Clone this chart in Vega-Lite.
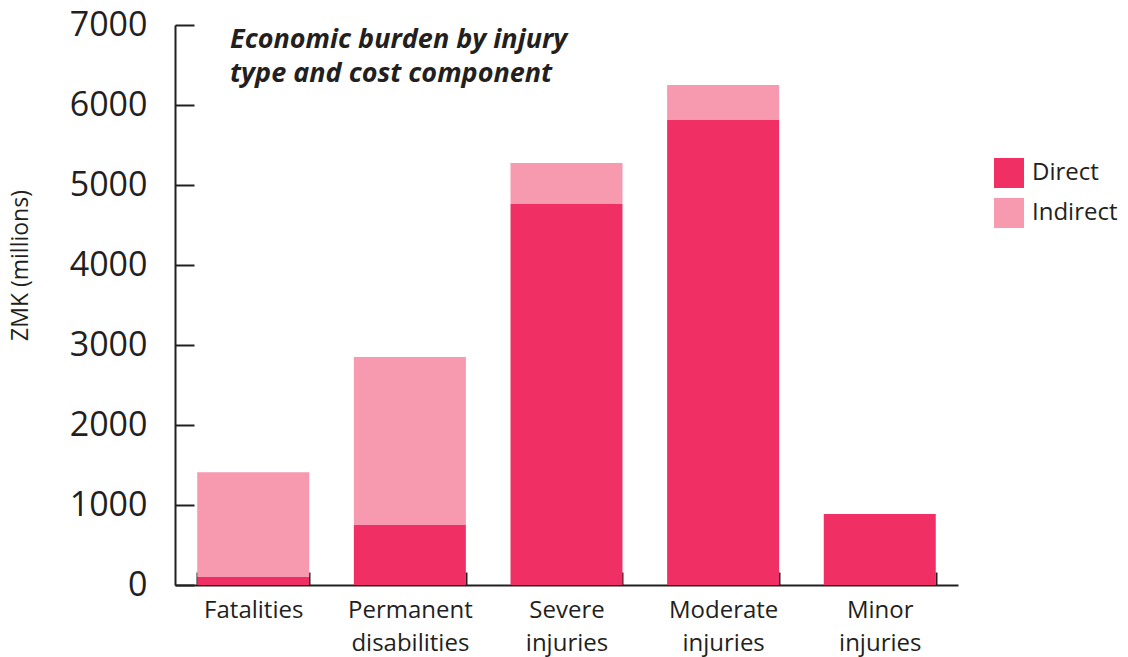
{
  "$schema": "https://vega.github.io/schema/vega-lite/v6.json",
  "width": 783,
  "height": 560,
  "autosize": {"type": "none"},
  "padding": {"left": 175, "top": 25, "right": 170, "bottom": 72},
  "background": "white",
  "title": {
    "text": ["Economic burden by injury", "type and cost component"],
    "anchor": "start",
    "frame": "group",
    "orient": "top",
    "baseline": "top",
    "offset": 0,
    "dx": 55,
    "dy": 80,
    "font": "Open Sans",
    "fontSize": 27,
    "fontWeight": "bold",
    "fontStyle": "italic",
    "color": "#231f20",
    "lineHeight": 34
  },
  "data": {
    "values": [
      {"injury": "Fatalities", "component": "Direct", "value": 100},
      {"injury": "Fatalities", "component": "Indirect", "value": 1310},
      {"injury": "Permanent disabilities", "component": "Direct", "value": 750},
      {"injury": "Permanent disabilities", "component": "Indirect", "value": 2100},
      {"injury": "Severe injuries", "component": "Direct", "value": 4762},
      {"injury": "Severe injuries", "component": "Indirect", "value": 513},
      {"injury": "Moderate injuries", "component": "Direct", "value": 5812},
      {"injury": "Moderate injuries", "component": "Indirect", "value": 438},
      {"injury": "Minor injuries", "component": "Direct", "value": 887},
      {"injury": "Minor injuries", "component": "Indirect", "value": 0}
    ]
  },
  "mark": {"type": "bar"},
  "encoding": {
    "x": {
      "field": "injury",
      "type": "nominal",
      "sort": null,
      "scale": {"paddingInner": 0.285, "paddingOuter": 0.142},
      "axis": {
        "title": null,
        "labelAngle": 0,
        "labelExpr": "split(datum.label, ' ')",
        "labelFont": "Open Sans",
        "labelFontSize": 24,
        "labelColor": "#231f20",
        "labelLineHeight": 33,
        "labelPadding": 26,
        "labelBaseline": "top",
        "tickBand": "extent",
        "tickSize": -13,
        "tickColor": "#231f20",
        "tickWidth": 2,
        "domainColor": "#231f20",
        "domainWidth": 2,
        "grid": false
      }
    },
    "y": {
      "field": "value",
      "type": "quantitative",
      "stack": "zero",
      "scale": {"domain": [0, 7000], "nice": false},
      "axis": {
        "title": "ZMK (millions)",
        "titleFont": "Open Sans",
        "titleFontSize": 23,
        "titleFontWeight": "normal",
        "titleColor": "#231f20",
        "titleX": -143,
        "titleY": 240,
        "values": [0, 1000, 2000, 3000, 4000, 5000, 6000, 7000],
        "format": "d",
        "labelFont": "Open Sans",
        "labelFontSize": 34,
        "labelColor": "#231f20",
        "labelPadding": 47,
        "tickSize": -19,
        "tickColor": "#231f20",
        "tickWidth": 2,
        "domainColor": "#231f20",
        "domainWidth": 2,
        "grid": false
      }
    },
    "color": {
      "field": "component",
      "type": "nominal",
      "scale": {"domain": ["Direct", "Indirect"], "range": ["#f03064", "#f799af"]},
      "legend": {
        "title": null,
        "orient": "none",
        "legendX": 819,
        "legendY": 133,
        "symbolType": "square",
        "symbolSize": 900,
        "symbolStrokeWidth": 0,
        "rowPadding": 10,
        "labelFont": "Open Sans",
        "labelFontSize": 24,
        "labelColor": "#231f20",
        "labelOffset": 8
      }
    },
    "order": {"field": "component", "sort": "ascending"}
  },
  "config": {"view": {"stroke": null}}
}
